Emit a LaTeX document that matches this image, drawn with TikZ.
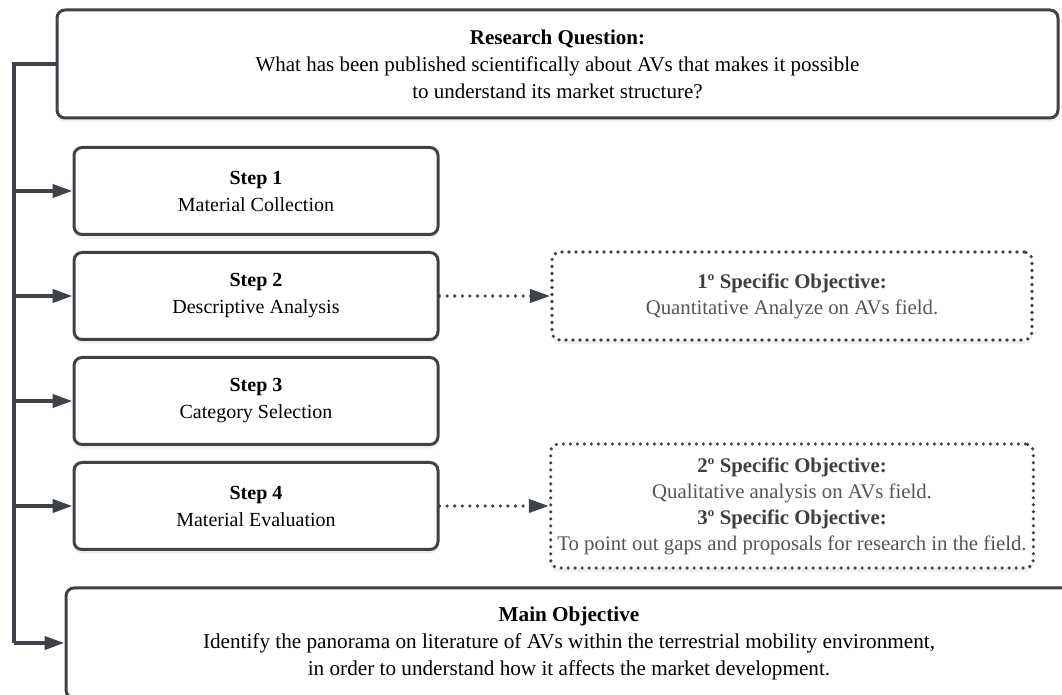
\documentclass[tikz,border=0pt]{standalone}
\usepackage{fontspec}
\setmainfont{Liberation Serif}
\usepackage{tikz}
\usepackage{xcolor}
\usetikzlibrary{shapes,arrows.meta,positioning,calc,shadows}
\definecolor{FlowLine}{HTML}{3E434A}
\definecolor{ObjText}{HTML}{555555}
\definecolor{ObjHead}{HTML}{3F3F3F}
\tikzset{
    % Base node style
    basenode/.style={
        draw=FlowLine,
        fill=white,
        line width=1.5pt,
        rounded corners=4pt,
        align=center,
        font=\fontsize{10}{13.5}\selectfont,
        drop shadow={opacity=0.12, shadow xshift=0pt, shadow yshift=-2pt}
    },
    % Research question box
    questionnode/.style={
        basenode,
        font=\fontsize{10.5}{13.5}\selectfont,
        minimum width=500.5pt,
        minimum height=54pt
    },
    % Step boxes
    stepnode/.style={
        basenode,
        minimum width=182pt,
        minimum height=43.5pt
    },
    % Specific objective boxes (dotted)
    objnode/.style={
        basenode,
        font=\fontsize{10.4}{13}\selectfont,
        line width=1.8pt,
        line cap=round,
        dash pattern=on 0pt off 3.5pt,
        text=ObjText,
        minimum width=240pt
    },
    % Main objective box
    mainnode/.style={
        basenode,
        font=\fontsize{10.6}{13.5}\selectfont,
        drop shadow={opacity=0},
        minimum width=503pt,
        minimum height=55pt
    },
    % Rail line
    rail/.style={
        line width=2pt,
        draw=FlowLine
    },
    % Arrow styles
    myarrow/.style={
        -{Triangle[length=10pt,width=6.5pt]},
        line width=2pt,
        draw=FlowLine
    },
    dotarrow/.style={
        -{Triangle[length=10pt,width=6.5pt]},
        line width=1.8pt,
        line cap=round,
        dash pattern=on 0pt off 3.8pt,
        draw=FlowLine
    }
}

\begin{document}
\begin{tikzpicture}[x=0.5pt, y=-0.5pt]
        \clip (0,0) rectangle (1062,695);
        \fill[white] (0,0) rectangle (1062,695);

        % Research question
        \node[questionnode] (question) at (557.5,64) {\textbf{Research Question:}\\
            What has been published scientifically about AVs that makes it possible\\
            to understand its market structure?};

        % Method steps
        \node[stepnode] (step1) at (256,191) {\textbf{Step 1}\\Material Collection};
        \node[stepnode] (step2) at (256,296) {\textbf{Step 2}\\Descriptive Analysis};
        \node[stepnode] (step3) at (256,401) {\textbf{Step 3}\\Category Selection};
        \node[stepnode] (step4) at (256,506) {\textbf{Step 4}\\Material Evaluation};

        % Specific objectives
        \node[objnode, minimum height=44pt] (obj1) at (792,296)
            {\textcolor{ObjHead}{\textbf{1º Specific Objective:}}\\
             Quantitative Analyze on AVs field.};
        \node[objnode, minimum height=62pt] (obj2) at (792,506)
            {\textcolor{ObjHead}{\textbf{2º Specific Objective:}}\\
             Qualitative analysis on AVs field.\\
             \textcolor{ObjHead}{\textbf{3º Specific Objective:}}\\
             To point out gaps and proposals for research in the field.};

        % Main objective
        \node[mainnode] (mainobj) at (569,643) {\textbf{Main Objective}\\
            Identify the panorama on literature of AVs within the terrestrial mobility environment,\\
            in order to understand how it affects the market development.};

        % Rail on the left
        \coordinate (railtop) at (14,64);
        \coordinate (railbot) at (14,643);
        \draw[rail] (question.west) -- (railtop) -- (railbot);
        \foreach \i in {1,...,4}
            \draw[myarrow] (railtop |- step\i.west) -- (step\i.west);
        \draw[myarrow] (railbot) -- (mainobj.west);

        % Links to objectives
        \draw[dotarrow] (step2.east) -- (obj1.west);
        \draw[dotarrow] (step4.east) -- (obj2.west);
    \end{tikzpicture}
\end{document}
